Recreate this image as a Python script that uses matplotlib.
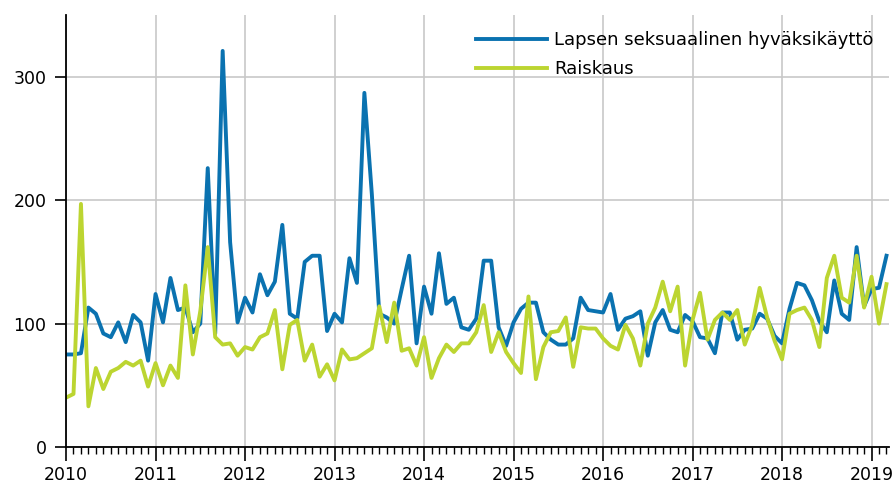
import matplotlib.pyplot as plt
from matplotlib.ticker import MultipleLocator, FixedLocator

# monthly counts, Jan 2010 .. Mar 2019
years = [str(y) for y in range(2010, 2020)]

lapsen = [75, 75, 76, 113, 108, 92, 89, 101, 85, 107, 101, 70,      # 2010
          124, 101, 137, 111, 113, 93, 100, 226, 92, 321, 166, 101,  # 2011
          121, 109, 140, 123, 134, 180, 108, 104, 150, 155, 155, 94,  # 2012
          108, 101, 153, 133, 287, 205, 108, 105, 100, 128, 155, 84,  # 2013
          130, 108, 157, 116, 121, 97, 95, 104, 151, 151, 97, 82,     # 2014
          101, 112, 117, 117, 93, 87, 83, 83, 88, 121, 111, 110,      # 2015
          109, 124, 95, 104, 106, 110, 74, 101, 111, 95, 93, 107,     # 2016
          102, 89, 88, 76, 109, 109, 87, 95, 96, 108, 104, 90,        # 2017
          84, 112, 133, 131, 119, 102, 93, 135, 108, 103, 162, 114,   # 2018
          128, 129, 155]                                              # 2019

raiskaus = [40, 43, 197, 33, 64, 47, 61, 64, 69, 66, 70, 49,
            68, 50, 66, 56, 131, 75, 110, 162, 89, 83, 84, 74,
            81, 79, 89, 92, 111, 63, 99, 103, 70, 83, 57, 67,
            54, 79, 71, 72, 76, 80, 114, 85, 117, 78, 80, 66,
            89, 56, 72, 83, 77, 84, 84, 93, 115, 77, 93, 77,
            68, 60, 122, 55, 81, 93, 94, 105, 65, 97, 96, 96,
            88, 82, 79, 99, 88, 66, 100, 113, 134, 110, 130, 66,
            103, 125, 87, 103, 109, 103, 111, 83, 99, 129, 105, 86,
            71, 108, 111, 113, 103, 81, 137, 155, 121, 117, 155, 113,
            138, 100, 132]

months = list(range(len(lapsen)))

blue = '#0a72b0'
green = '#bcd531'

plt.rcParams['font.family'] = ['DejaVu Sans']
fig = plt.figure(figsize=(8.96, 4.88), dpi=100)
ax = fig.add_axes([0.0737, 0.084, 0.919, 0.885])

ax.plot(months, lapsen, color=blue, linewidth=2.8, label='Lapsen seksuaalinen hyväksikäyttö')
ax.plot(months, raiskaus, color=green, linewidth=2.8, label='Raiskaus')

ax.set_xlim(0, 110.4)
ax.set_ylim(0, 350)

ax.xaxis.set_major_locator(FixedLocator([12 * i for i in range(len(years))]))
ax.set_xticklabels(years)
ax.xaxis.set_minor_locator(MultipleLocator(1))
ax.set_yticks([0, 100, 200, 300])

ax.grid(True, which='major', color='#c8c8c8', linewidth=1.2)
ax.set_axisbelow(True)

for s in ['top', 'right']:
    ax.spines[s].set_visible(False)
ax.spines['left'].set_linewidth(1.3)
ax.spines['bottom'].set_linewidth(1.3)

ax.tick_params(axis='x', which='major', length=10, width=1.2, labelsize=12.5, pad=4)
ax.tick_params(axis='x', which='minor', length=5, width=1.0)
ax.tick_params(axis='y', which='major', length=8, width=1.2, labelsize=12.5, pad=6)

ax.legend(loc='upper right', bbox_to_anchor=(1.0, 1.0), frameon=False, fontsize=13,
          handlelength=3.9, handletextpad=0.4, labelspacing=0.6)

fig.savefig('out.png', dpi=100)
